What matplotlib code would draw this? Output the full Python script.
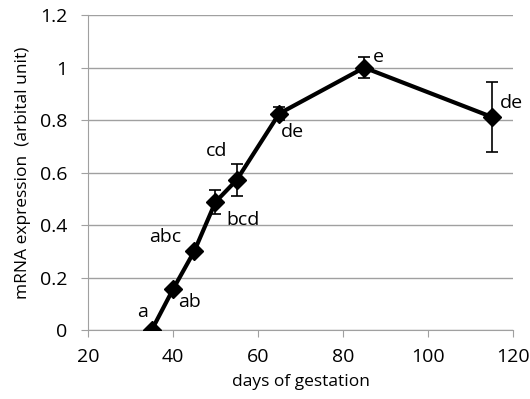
import numpy as np
import matplotlib.pyplot as plt

plt.rcParams['font.family'] = ['Open Sans', 'DejaVu Sans']

days = [35, 40, 45, 50, 55, 65, 85, 115]
expr = [0.0, 0.155, 0.30, 0.488, 0.572, 0.825, 1.0, 0.812]
err = [0.0, 0.0, 0.0, 0.047, 0.062, 0.025, 0.04, 0.134]
letters = ['a', 'ab', 'abc', 'bcd', 'cd', 'de', 'e', 'de']
# label offsets in points
offsets = [(-3, 13), (4, -9), (-9, 10), (8, -13), (-7, 21), (1, -13), (6, 8), (6, 10)]
aligns = ['right', 'left', 'right', 'left', 'right', 'left', 'left', 'left']

fig = plt.figure(figsize=(5.3, 3.99), dpi=100)
ax = fig.add_axes([0.166, 0.173, 0.802, 0.789])

ax.errorbar(days, expr, yerr=err, color='black', lw=3, marker='D', ms=9,
            ecolor='black', elinewidth=1.2, capsize=4, capthick=1.2, zorder=3)
for x, y, t, o, ha in zip(days, expr, letters, offsets, aligns):
    ax.annotate(t, (x, y), xytext=o, textcoords='offset points',
                ha=ha, va='center', fontsize=14)

ax.set_xlim(20, 120)
ax.set_ylim(0, 1.2)
ax.set_xticks(np.arange(20, 121, 20))
ax.set_yticks(np.arange(0, 1.21, 0.2))
ax.set_yticklabels(['0', '0.2', '0.4', '0.6', '0.8', '1', '1.2'])
ax.yaxis.grid(True, color='#a0a0a0', lw=1)
ax.set_axisbelow(True)
for s in ['top', 'right']:
    ax.spines[s].set_visible(False)
for s in ['left', 'bottom']:
    ax.spines[s].set_color('#a0a0a0')
ax.tick_params(colors='#a0a0a0', labelcolor='black', labelsize=14, length=5)
ax.tick_params(axis='x', pad=8)
ax.tick_params(axis='y', pad=10)
ax.set_xlabel('days of gestation', fontsize=12.5, labelpad=6)
ax.set_ylabel('mRNA expression  (arbital unit)', fontsize=12.5, labelpad=6)

fig.savefig('out.png', dpi=100)
